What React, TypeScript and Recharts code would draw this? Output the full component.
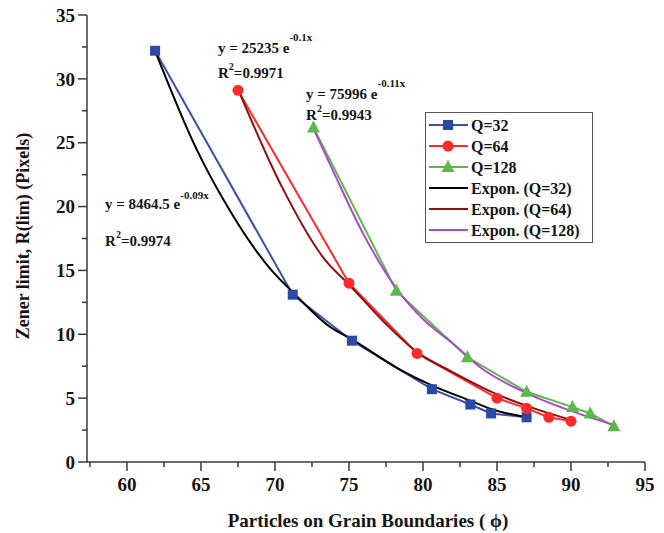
import React from 'react';
import { LineChart, Line, XAxis, YAxis, ReferenceDot, Legend } from 'recharts';

// ---- data ----
const q32X = [61.9, 71.2, 75.2, 80.6, 83.2, 84.6, 87.0];
const q32Y = [32.2, 13.1, 9.5, 5.7, 4.5, 3.8, 3.5];
const q64X = [67.5, 75.0, 79.6, 85.0, 87.0, 88.5, 90.0];
const q64Y = [29.1, 14.0, 8.5, 5.0, 4.2, 3.5, 3.2];
const q128X = [72.6, 78.2, 83.0, 87.0, 90.1, 91.3, 92.9];
const q128Y = [26.2, 13.4, 8.2, 5.5, 4.3, 3.8, 2.8];

// exponential trend lines
const fit32X = [61.9, 64.7, 67.0, 69.7, 71.2, 73.7, 75.2, 78.5, 80.6, 83.2, 84.6, 87.0];
const fit32Y = [32.2, 24.5, 19.6, 15.1, 13.3, 10.6, 9.6, 7.2, 6.0, 4.8, 4.15, 3.5];
const fit64X = [67.5, 70.4, 73.4, 75.0, 77.5, 79.6, 81.9, 85.0, 87.5, 90.0];
const fit64Y = [29.2, 21.7, 15.8, 13.9, 10.8, 8.6, 7.1, 5.3, 4.2, 3.3];
const fit128X = [72.6, 74.0, 75.9, 78.2, 80.0, 82.0, 84.0, 87.0, 90.0, 92.9];
const fit128Y = [26.1, 22.6, 18.0, 13.6, 11.2, 9.3, 7.3, 5.4, 4.0, 2.9];

const xTicks = [57.5, 60, 62.5, 65, 67.5, 70, 72.5, 75, 77.5, 80, 82.5, 85, 87.5, 90, 92.5, 95];
const yTicks = [0, 2.5, 5, 7.5, 10, 12.5, 15, 17.5, 20, 22.5, 25, 27.5, 30, 32.5, 35];

const seriesNames = ['Q=32', 'Q=64', 'Q=128'];
const fitNames = ['Expon. (Q=32)', 'Expon. (Q=64)', 'Expon. (Q=128)'];

const eqMain = ['y = 8464.5 e', 'y = 25235 e', 'y = 75996 e'];
const eqExp = ['-0.09x', '-0.1x', '-0.11x'];
const eqR2 = ['=0.9974', '=0.9971', '=0.9943'];

const X_TITLE = 'Particles on Grain Boundaries ( \u03D5)';
const Y_TITLE = 'Zener limit, R(lim) (Pixels)';

// ---- styling ----
const FONT = '"Liberation Serif", "Times New Roman", serif';
const AXIS = '#3a3a3a';
const TXT = '#151515';
const BLUE = '#3a50aa';
const BLUE_MARK = '#2c49a6';
const RED = '#ff2a2a';
const GREEN = '#5cb848';
const BLACK = '#000000';
const DARKRED = '#8b1010';
const PURPLE = '#a94bc7';

// annotation layout (data units)
const eqAnchorX = [58.52, 66.15, 72.1];
const eqLine1Y = [19.81, 32.02, 28.42];
const eqLine2Y = [16.91, 30.07, 26.78];
const eqSupDy = [-10, -12, -12];

const pts = (xs: number[], ys: number[]) => xs.map((x, i) => ({ x, y: ys[i] }));
const d32 = pts(q32X, q32Y);
const d64 = pts(q64X, q64Y);
const d128 = pts(q128X, q128Y);
const f32 = pts(fit32X, fit32Y);
const f64 = pts(fit64X, fit64Y);
const f128 = pts(fit128X, fit128Y);

const isMajor = (v: number) => Math.abs(v / 5 - Math.round(v / 5)) < 1e-6;

const YTick = (props: any) => {
  const { x, y, payload } = props;
  const v = payload.value;
  const major = isMajor(v);
  return (
    <g>
      <line x1={x - (major ? 9 : 5)} x2={x} y1={y} y2={y} stroke={AXIS} strokeWidth={1.5} />
      {major && (
        <text x={x - 12} y={y} dy="0.35em" textAnchor="end" fontFamily={FONT} fontWeight="bold" fontSize={19} fill={TXT}>
          {v}
        </text>
      )}
    </g>
  );
};

const XTick = (props: any) => {
  const { x, y, payload } = props;
  const v = payload.value;
  const major = isMajor(v);
  return (
    <g>
      <line x1={x} x2={x} y1={y} y2={y + (major ? 9 : 5)} stroke={AXIS} strokeWidth={1.5} />
      {major && (
        <text x={x} y={y + 29} textAnchor="middle" fontFamily={FONT} fontWeight="bold" fontSize={19} fill={TXT}>
          {v}
        </text>
      )}
    </g>
  );
};

const XTitle = () => (
  <text x={368} y={527} textAnchor="middle" fontFamily={FONT} fontWeight="bold" fontSize={19} fill={TXT}>
    {X_TITLE}
  </text>
);

const YTitle = () => (
  <text x={23} y={236} transform="rotate(-90 23 236)" textAnchor="middle" dominantBaseline="central" fontFamily={FONT} fontWeight="bold" fontSize={18} fill={TXT}>
    {Y_TITLE}
  </text>
);

const Square = (p: any) => (
  <rect key={`s${p.index}`} x={p.cx - 5} y={p.cy - 5} width={10} height={10} fill={BLUE_MARK} />
);
const Circ = (p: any) => <circle key={`c${p.index}`} cx={p.cx} cy={p.cy} r={5.5} fill={RED} />;
const Tri = (p: any) => (
  <polygon
    key={`t${p.index}`}
    points={`${p.cx},${p.cy - 7} ${p.cx - 6.5},${p.cy + 5} ${p.cx + 6.5},${p.cy + 5}`}
    fill={GREEN}
  />
);

const legendRows = [
  { name: seriesNames[0], color: BLUE, mark: 'square' },
  { name: seriesNames[1], color: RED, mark: 'circle' },
  { name: seriesNames[2], color: GREEN, mark: 'triangle' },
  { name: fitNames[0], color: BLACK, mark: '' },
  { name: fitNames[1], color: DARKRED, mark: '' },
  { name: fitNames[2], color: PURPLE, mark: '' },
];

const LegendBox = () => (
  <svg width={166} height={129} style={{ display: 'block' }}>
    {legendRows.map((r, i) => {
      const cy = 12 + i * 21;
      return (
        <g key={r.name}>
          <line x1={3} x2={42} y1={cy} y2={cy} stroke={r.color} strokeWidth={2} />
          {r.mark === 'square' && <rect x={17} y={cy - 5} width={10} height={10} fill={BLUE_MARK} />}
          {r.mark === 'circle' && <circle cx={22} cy={cy} r={5.5} fill={RED} />}
          {r.mark === 'triangle' && (
            <polygon points={`22,${cy - 7} 15.5,${cy + 5} 28.5,${cy + 5}`} fill={GREEN} />
          )}
          <text x={45} y={cy} dy="0.35em" fontFamily={FONT} fontWeight="bold" fontSize={16} fill={TXT}>
            {r.name}
          </text>
        </g>
      );
    })}
  </svg>
);

const eqShape1 = (i: number) => (p: any) => (
  <text x={p.cx} y={p.cy} fontFamily={FONT} fontWeight="bold" fontSize={15} fill={TXT}>
    {eqMain[i]}
    <tspan dy={eqSupDy[i]} fontSize={11}>
      {eqExp[i]}
    </tspan>
  </text>
);
const eqShape2 = (i: number) => (p: any) => (
  <text x={p.cx} y={p.cy} fontFamily={FONT} fontWeight="bold" fontSize={15} fill={TXT}>
    R
    <tspan dy={-8} fontSize={10}>
      2
    </tspan>
    <tspan dy={8}>{eqR2[i]}</tspan>
  </text>
);

export default function App() {
  return (
    <div style={{ position: 'absolute', left: 0, top: 0, width: 664, height: 533, background: '#fff' }}>
      <LineChart width={664} height={533} margin={{ top: 15, right: 19, bottom: 0, left: 0 }}>
        <XAxis
          dataKey="x"
          type="number"
          domain={[57.3, 95]}
          ticks={xTicks}
          interval={0}
          tickSize={0}
          tickMargin={0}
          tickLine={false}
          tick={<XTick />}
          axisLine={{ stroke: AXIS, strokeWidth: 1.5 }}
          height={71}
          allowDataOverflow
          label={{ content: () => <XTitle /> }}
        />
        <XAxis
          xAxisId="top"
          orientation="top"
          type="number"
          domain={[57.3, 95]}
          height={0}
          tick={false}
          tickLine={false}
          axisLine={{ stroke: AXIS, strokeWidth: 1.5 }}
          allowDataOverflow
        />
        <YAxis
          type="number"
          domain={[0, 35]}
          ticks={yTicks}
          interval={0}
          tickSize={0}
          tickMargin={0}
          tickLine={false}
          tick={<YTick />}
          axisLine={{ stroke: AXIS, strokeWidth: 1.5 }}
          width={87}
          allowDataOverflow
          label={{ content: () => <YTitle /> }}
        />
        <YAxis
          yAxisId="right"
          orientation="right"
          type="number"
          domain={[0, 35]}
          width={0}
          tick={false}
          tickLine={false}
          axisLine={{ stroke: AXIS, strokeWidth: 1.5 }}
          allowDataOverflow
        />
        <Legend
          layout="vertical"
          align="center"
          verticalAlign="middle"
          content={() => <LegendBox />}
          wrapperStyle={{
            position: 'absolute',
            left: 425,
            top: 112,
            width: 168,
            height: 131,
            border: '1.5px solid #555',
            background: '#fff',
            boxSizing: 'border-box',
            padding: 0,
            margin: 0,
          }}
        />
        <Line data={d32} dataKey="y" name={seriesNames[0]} type="linear" stroke={BLUE} strokeWidth={2} dot={Square} activeDot={false} isAnimationActive={false} />
        <Line data={d64} dataKey="y" name={seriesNames[1]} type="linear" stroke={RED} strokeWidth={2} dot={Circ} activeDot={false} isAnimationActive={false} />
        <Line data={d128} dataKey="y" name={seriesNames[2]} type="linear" stroke={GREEN} strokeWidth={2} dot={Tri} activeDot={false} isAnimationActive={false} />
        <Line data={f32} dataKey="y" name={fitNames[0]} type="monotone" stroke={BLACK} strokeWidth={2} dot={false} activeDot={false} isAnimationActive={false} />
        <Line data={f64} dataKey="y" name={fitNames[1]} type="monotone" stroke={DARKRED} strokeWidth={2} dot={false} activeDot={false} isAnimationActive={false} />
        <Line data={f128} dataKey="y" name={fitNames[2]} type="monotone" stroke={PURPLE} strokeWidth={2} dot={false} activeDot={false} isAnimationActive={false} />
        {eqMain.map((_, i) => (
          <ReferenceDot key={`e1${i}`} x={eqAnchorX[i]} y={eqLine1Y[i]} r={0} shape={eqShape1(i)} />
        ))}
        {eqMain.map((_, i) => (
          <ReferenceDot key={`e2${i}`} x={eqAnchorX[i]} y={eqLine2Y[i]} r={0} shape={eqShape2(i)} />
        ))}
      </LineChart>
    </div>
  );
}
